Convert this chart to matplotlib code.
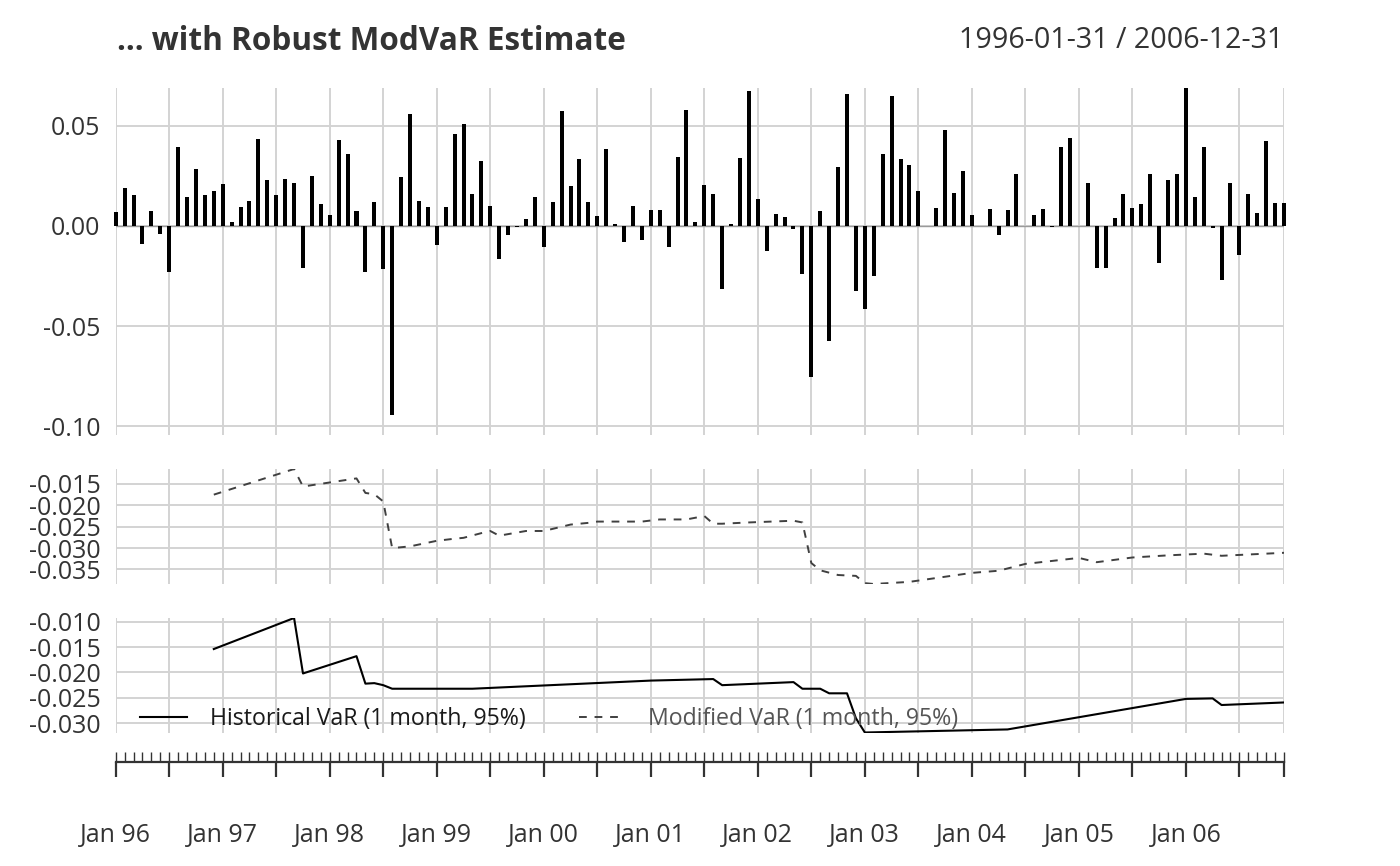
import numpy as np
import pandas as pd
import matplotlib
matplotlib.use("Agg")
import matplotlib.pyplot as plt
from matplotlib.ticker import FixedLocator, FuncFormatter, NullFormatter

plt.rcParams['font.family'] = ['Open Sans', 'DejaVu Sans']

# monthly returns, 1996-01 .. 2006-12
dates = pd.date_range("1996-01-31", periods=132, freq="ME")
returns = [
    0.0072, 0.0192, 0.0153, -0.0092, 0.0073, -0.0040, -0.0232, 0.0393, 0.0145, 0.0287, 0.0155, 0.0175,
    0.0212, 0.0020, 0.0093, 0.0123, 0.0437, 0.0230, 0.0153, 0.0237, 0.0217, -0.0208, 0.0248, 0.0108,
    0.0055, 0.0428, 0.0360, 0.0077, -0.0232, 0.0118, -0.0215, -0.0945, 0.0247, 0.0558, 0.0123, 0.0097,
    -0.0093, 0.0093, 0.0462, 0.0508, 0.0162, 0.0325, 0.0098, -0.0165, -0.0045, -0.0005, 0.0033, 0.0145,
    -0.0103, 0.0122, 0.0573, 0.0200, 0.0337, 0.0122, 0.0048, 0.0387, 0.0012, -0.0078, 0.0102, -0.0070,
    0.0078, 0.0082, -0.0107, 0.0343, 0.0578, 0.0018, 0.0205, 0.0158, -0.0313, 0.0008, 0.0338, 0.0673,
    0.0133, -0.0125, 0.0062, 0.0045, -0.0015, -0.0242, -0.0755, 0.0075, -0.0575, 0.0297, 0.0658, -0.0323,
    -0.0413, -0.0252, 0.0362, 0.0648, 0.0335, 0.0307, 0.0173, 0.0000, 0.0088, 0.0480, 0.0167, 0.0273,
    0.0053, 0.0000, 0.0087, -0.0045, 0.0080, 0.0258, 0.0000, 0.0055, 0.0087, -0.0005, 0.0393, 0.0438,
    0.0000, 0.0213, -0.0208, -0.0208, 0.0042, 0.0158, 0.0090, 0.0112, 0.0258, -0.0187, 0.0230, 0.0258,
    0.0690, 0.0145, 0.0395, -0.0010, -0.0268, 0.0213, -0.0145, 0.0158, 0.0067, 0.0425, 0.0115, 0.0113,
]

# Modified VaR, values at the kinks of the dashed line
mvar_dates = ["1996-12", "1997-09", "1997-10", "1998-04", "1998-05", "1998-06", "1998-07",
              "1998-08", "1998-10", "1999-01", "1999-03", "1999-04", "1999-06", "1999-07",
              "1999-08", "1999-11", "2000-01", "2000-02", "2000-04", "2000-06", "2000-07",
              "2000-12", "2001-02", "2001-05", "2001-07", "2001-08", "2001-09", "2001-12",
              "2002-05", "2002-06", "2002-07", "2002-08", "2002-10", "2002-12", "2003-01",
              "2003-02", "2003-06", "2004-01", "2004-04", "2004-07", "2005-01", "2005-03",
              "2005-07", "2005-11", "2006-03", "2006-05", "2006-12"]
mvar_values = [-0.0175, -0.0115, -0.0156, -0.0137, -0.0171, -0.0174, -0.0191,
               -0.0300, -0.0296, -0.0283, -0.0278, -0.0276, -0.0265, -0.0260,
               -0.0271, -0.0260, -0.0260, -0.0255, -0.0245, -0.0241, -0.0238,
               -0.0238, -0.0233, -0.0233, -0.0225, -0.0243, -0.0243, -0.0240,
               -0.0236, -0.0240, -0.0335, -0.0352, -0.0363, -0.0365, -0.0382,
               -0.0384, -0.0379, -0.0358, -0.0353, -0.0337, -0.0323, -0.0333,
               -0.0322, -0.0317, -0.0313, -0.0318, -0.0311]

# Historical VaR, values at the kinks of the solid line
hvar_dates = ["1996-12", "1997-09", "1997-10", "1998-04", "1998-05", "1998-06", "1998-07",
              "1998-08", "1999-05", "2001-01", "2001-08", "2001-09", "2002-05", "2002-06",
              "2002-08", "2002-09", "2002-11", "2002-12", "2003-01", "2004-05", "2006-01",
              "2006-04", "2006-05", "2006-12"]
hvar_values = [-0.0154, -0.0093, -0.0202, -0.0168, -0.0222, -0.0221, -0.0225,
               -0.0232, -0.0232, -0.0216, -0.0213, -0.0225, -0.0219, -0.0232,
               -0.0232, -0.0241, -0.0241, -0.0290, -0.0318, -0.0312, -0.0252,
               -0.0251, -0.0264, -0.0259]

title = "... with Robust ModVaR Estimate"
period = "1996-01-31 / 2006-12-31"


def month_pos(labels):
    p = pd.PeriodIndex(labels, freq="M")
    return (p.year - 1996) * 12 + p.month - 1


W, H = 1400, 866
GRID = "#d3d3d3"
TXT = "#333333"

fig = plt.figure(figsize=(W / 100, H / 100), dpi=100)


def add_panel(top, bottom):
    ax = fig.add_axes([115.7 / W, 1 - bottom / H, 1168.3 / W, (bottom - top) / H])
    for s in ax.spines.values():
        s.set_visible(False)
    ax.grid(True, color=GRID, lw=1.4)
    ax.set_axisbelow(True)
    ax.tick_params(length=0, labelsize=18, labelcolor=TXT, pad=11)
    ax.set_xlim(0, len(dates) - 1)
    ax.xaxis.set_major_locator(FixedLocator(list(range(0, len(dates), 6)) + [len(dates) - 1]))
    ax.xaxis.set_major_formatter(NullFormatter())
    return ax


x = np.arange(len(dates))

# returns panel
ax_r = add_panel(88, 435)
ax_r.axhline(0, color="#9a9a9a", lw=1.0, zorder=1)
ax_r.bar(x, returns, width=0.45, color="black", clip_on=False, zorder=2)
ax_r.set_ylim(-0.1045, max(returns))
ax_r.yaxis.set_major_locator(FixedLocator([-0.10, -0.05, 0.0, 0.05]))
ax_r.yaxis.set_major_formatter(FuncFormatter(lambda v, p: f"{v:.2f}"))

# modified VaR panel
ax_m = add_panel(469, 584)
line_m, = ax_m.plot(month_pos(mvar_dates), mvar_values, color="#404040", lw=1.4,
                    linestyle=(0, (4, 4)))
ax_m.set_ylim(min(mvar_values), max(mvar_values))
ax_m.yaxis.set_major_locator(FixedLocator([-0.035, -0.030, -0.025, -0.020, -0.015]))
ax_m.yaxis.set_major_formatter(FuncFormatter(lambda v, p: f"{v:.3f}"))

# historical VaR panel
ax_h = add_panel(618, 733)
line_h, = ax_h.plot(month_pos(hvar_dates), hvar_values, color="black", lw=1.5)
ax_h.set_ylim(min(hvar_values) - 0.0001, max(hvar_values))
ax_h.yaxis.set_major_locator(FixedLocator([-0.030, -0.025, -0.020, -0.015, -0.010]))
ax_h.yaxis.set_major_formatter(FuncFormatter(lambda v, p: f"{v:.3f}"))

leg = ax_h.legend([line_h, line_m],
                  ["Historical VaR (1 month, 95%)", "Modified VaR (1 month, 95%)"],
                  loc="center left", bbox_to_anchor=(0.021, 0.12), ncol=2, frameon=False,
                  fontsize=16.7, handlelength=2.0, handletextpad=1.0, columnspacing=2.3,
                  borderpad=0, borderaxespad=0)
leg.get_texts()[0].set_color("#1a1a1a")
leg.get_texts()[1].set_color("#555555")

# time axis strip
ax_t = fig.add_axes([115.7 / W, 1 - 762 / H, 1168.3 / W, 8 / H])
for k, s in ax_t.spines.items():
    s.set_visible(k == "bottom")
ax_t.spines["bottom"].set_color(TXT)
ax_t.spines["bottom"].set_linewidth(1.6)
ax_t.set_xlim(0, len(dates) - 1)
ax_t.set_yticks([])
ax_t.patch.set_visible(False)
ax_t.xaxis.remove_overlapping_locs = False
ax_t.xaxis.set_major_locator(FixedLocator(list(range(0, len(dates), 6)) + [len(dates) - 1]))
ax_t.xaxis.set_minor_locator(FixedLocator(list(x)))
ax_t.xaxis.set_major_formatter(FuncFormatter(
    lambda v, p: dates[int(round(v))].strftime("%b %y") if int(round(v)) % 12 == 0 else ""))
ax_t.tick_params(axis="x", which="major", direction="out", length=11, width=1.6,
                 color=TXT, labelsize=18, labelcolor=TXT, pad=33)
ax_t.tick_params(axis="x", which="minor", direction="in", length=7, width=1.0, color=TXT)

fig.text(117 / W, 1 - 41 / H, title, fontsize=22.7, fontweight="bold", color=TXT,
         ha="left", va="center")
fig.text(1283 / W, 1 - 40 / H, period, fontsize=20.6, color=TXT, ha="right", va="center")

fig.savefig("out.png", dpi=100)
